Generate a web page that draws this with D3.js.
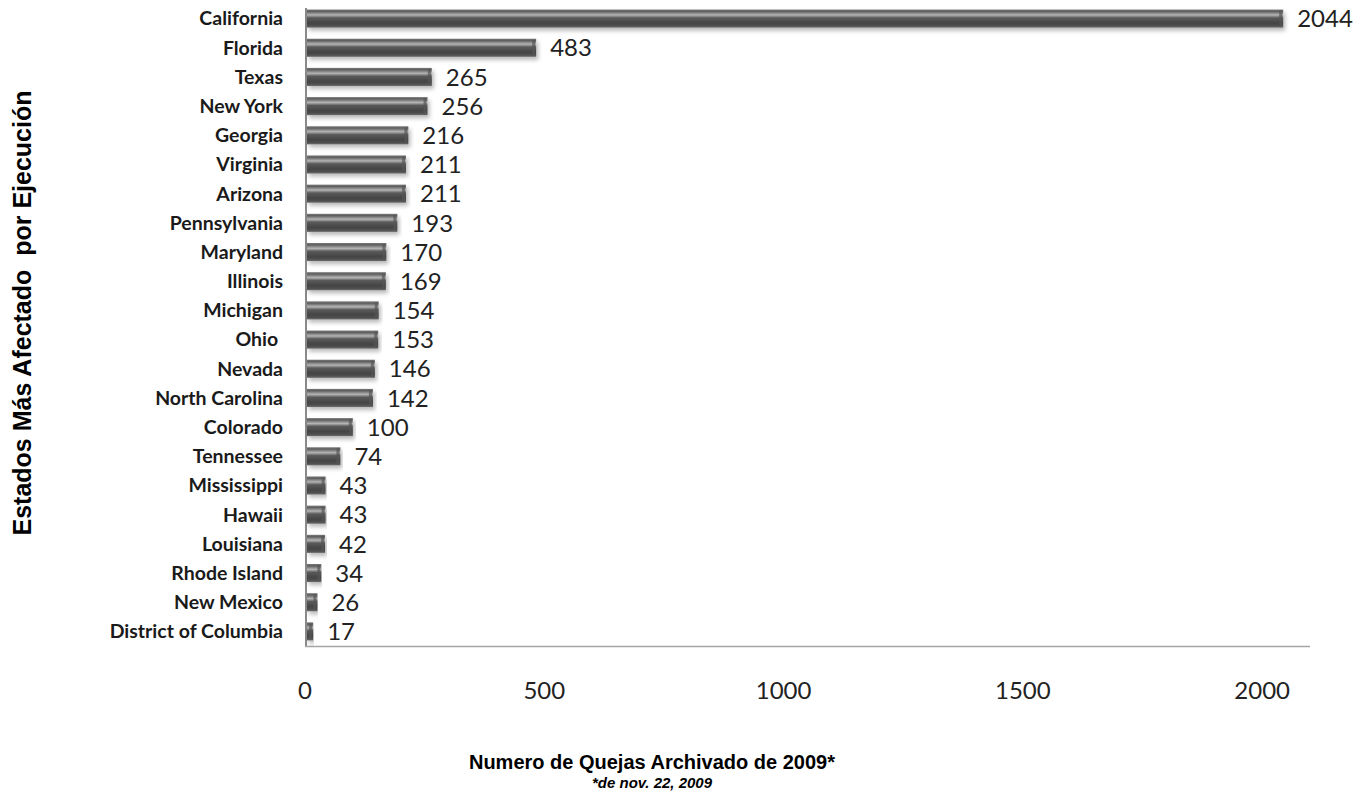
<!DOCTYPE html>
<html>
<head>
<meta charset="utf-8">
<script src="https://cdn.jsdelivr.net/npm/d3@7"></script>
<style>
  body { margin: 0; background: #fff; }
  svg { display: block; }
</style>
</head>
<body>
<svg id="chart" width="1371" height="793"></svg>
<script>
const states = ['California', 'Florida', 'Texas', 'New York', 'Georgia', 'Virginia', 'Arizona', 'Pennsylvania',
    'Maryland', 'Illinois', 'Michigan', 'Ohio ', 'Nevada', 'North Carolina', 'Colorado', 'Tennessee',
    'Mississippi', 'Hawaii', 'Louisiana', 'Rhode Island', 'New Mexico', 'District of Columbia'];
const complaints = [2044, 483, 265, 256, 216, 211, 211, 193, 170, 169, 154, 153, 146, 142, 100, 74, 43, 43, 42, 34, 26, 17];
const xTicks = [0, 500, 1000, 1500, 2000];

const svg = d3.select('#chart');
const plotLeft = 305, plotRight = 1310, plotTop = 4, plotBottom = 646;

const x = d3.scaleLinear().domain([0, 2100]).range([plotLeft, plotRight]);
const y = d3.scaleBand().domain(states).range([plotTop, plotBottom]).paddingInner(0.38).paddingOuter(0.19);

const defs = svg.append('defs');
const grad = defs.append('linearGradient').attr('id', 'barGrad').attr('x1', 0).attr('y1', 0).attr('x2', 0).attr('y2', 1);
[[0, '#7a7a7a'], [0.1, '#5e5e5e'], [0.3, '#b4b4b4'], [0.46, '#5a5a5a'], [0.75, '#444'], [0.9, '#505050'], [1, '#6e6e6e']]
    .forEach(([o, c]) => grad.append('stop').attr('offset', o).attr('stop-color', c));
const f = defs.append('filter').attr('id', 'shadow').attr('x', '-5%').attr('y', '-40%').attr('width', '110%').attr('height', '200%');
f.append('feDropShadow').attr('dx', 2).attr('dy', 3).attr('stdDeviation', 2).attr('flood-color', '#000').attr('flood-opacity', 0.28);

// axes lines
svg.append('line').attr('x1', plotLeft + 1).attr('x2', plotLeft + 1).attr('y1', 8).attr('y2', plotBottom)
    .attr('stroke', '#8a8a8a').attr('stroke-width', 2);
svg.append('line').attr('x1', plotLeft).attr('x2', plotRight).attr('y1', plotBottom + 0.5).attr('y2', plotBottom + 0.5)
    .attr('stroke', '#a6a6a6').attr('stroke-width', 1.5);

// bars
svg.append('g').selectAll('rect').data(states).join('rect')
    .attr('x', plotLeft + 2)
    .attr('y', d => y(d))
    .attr('width', (d, i) => Math.max(x(complaints[i]) - plotLeft - 2, 3))
    .attr('height', y.bandwidth())
    .attr('fill', 'url(#barGrad)')
    .attr('filter', 'url(#shadow)');

// bar end caps
svg.append('g').selectAll('rect').data(states).join('rect')
    .attr('x', (d, i) => Math.max(x(complaints[i]) - 4, plotLeft + 3))
    .attr('y', d => y(d) + 1)
    .attr('width', 3)
    .attr('height', y.bandwidth() - 2)
    .attr('fill', '#555')
    .attr('opacity', 0.7);

// value labels
svg.append('g').selectAll('text').data(states).join('text')
    .attr('x', (d, i) => x(complaints[i]) + 14)
    .attr('y', d => y(d) + y.bandwidth() / 2)
    .attr('dy', '0.36em')
    .attr('font-family', 'Lato, sans-serif')
    .attr('font-size', 24)
    .attr('fill', '#222')
    .text((d, i) => complaints[i]);

// category labels
svg.append('g').selectAll('text').data(states).join('text')
    .attr('x', 283)
    .attr('y', d => y(d) + y.bandwidth() / 2)
    .attr('dy', '0.35em')
    .attr('text-anchor', 'end')
    .attr('font-family', 'Lato, sans-serif')
    .attr('font-weight', 'bold')
    .attr('font-size', 19.5)
    .attr('fill', '#1a1a1a')
    .style('white-space', 'pre')
    .text(d => d);

// x tick labels
svg.append('g').selectAll('text').data(xTicks).join('text')
    .attr('x', d => x(d))
    .attr('y', 699)
    .attr('text-anchor', 'middle')
    .attr('font-family', 'Lato, sans-serif')
    .attr('font-size', 24)
    .attr('fill', '#222')
    .text(d => d);

// titles
svg.append('text')
    .attr('transform', 'translate(31,313) rotate(-90)')
    .attr('text-anchor', 'middle')
    .attr('font-family', 'Liberation Sans, Arial, sans-serif')
    .attr('font-weight', 'bold')
    .attr('font-size', 25)
    .attr('fill', '#000')
    .style('white-space', 'pre')
    .text('Estados Más Afectado  por Ejecución');

svg.append('text')
    .attr('x', 652).attr('y', 769)
    .attr('text-anchor', 'middle')
    .attr('font-family', 'Liberation Sans, Arial, sans-serif')
    .attr('font-weight', 'bold')
    .attr('font-size', 20)
    .attr('fill', '#000')
    .text('Numero de Quejas Archivado de 2009*');

svg.append('text')
    .attr('x', 652).attr('y', 788)
    .attr('text-anchor', 'middle')
    .attr('font-family', 'Liberation Sans, Arial, sans-serif')
    .attr('font-weight', 'bold')
    .attr('font-style', 'italic')
    .attr('font-size', 15)
    .attr('fill', '#000')
    .text('*de nov. 22, 2009');
</script>
</body>
</html>
